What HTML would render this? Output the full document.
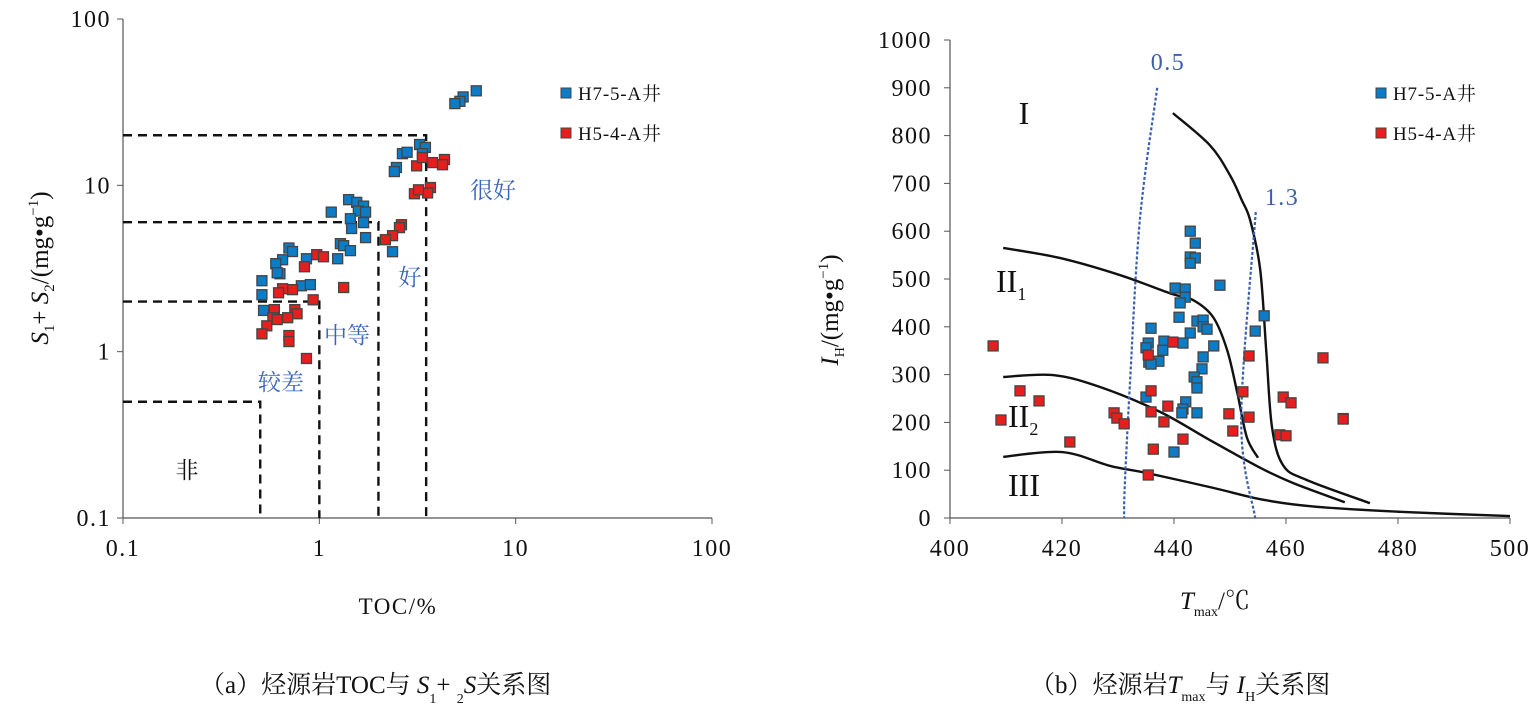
<!DOCTYPE html>
<html><head><meta charset="utf-8">
<style>
html,body{margin:0;padding:0;background:#fff;}
svg{display:block;font-family:"Liberation Serif","Noto Serif CJK SC",serif;}
</style></head>
<body>
<svg id="fig" width="1536" height="709" viewBox="0 0 1536 709">
<g id="left"></g>
<g id="right"></g>
</svg>
<script>
// ---- Left chart data ----
const leftXTicks = [0.1, 1, 10, 100];
const leftXTickLabels = ["0.1", "1", "10", "100"];
const leftYTicks = [0.1, 1, 10, 100];
const leftYTickLabels = ["0.1", "1", "10", "100"];
const blueTOC = [6.3,5.4,5.2,4.9,3.24,3.47,3.35,2.65,2.47,2.41,2.8,1.41,1.55,1.68,1.58,1.72,1.15,1.44,1.68,1.46,1.72,1.28,1.33,1.44,1.24,2.36,0.70,0.73,0.65,0.60,0.63,0.61,0.86,0.81,0.90,0.51,0.51,0.52];
const blueS12 = [37,34,32,31,17.6,16.9,15.5,15.5,12.8,12.1,15.8,8.2,7.9,7.5,7.0,6.9,6.9,6.3,5.97,5.5,4.85,4.46,4.34,4.05,3.62,3.99,4.2,4.0,3.57,3.38,2.94,2.98,3.62,2.49,2.53,2.67,2.2,1.77];
const redTOC = [4.34,4.24,3.77,3.13,3.35,3.68,3.05,3.56,3.2,2.62,2.56,2.36,2.17,0.97,1.05,0.84,1.33,0.93,0.73,0.65,0.62,0.59,0.75,0.77,0.58,0.61,0.69,0.54,0.51,0.70,0.70,0.86];
const redS12 = [14.3,13.3,13.7,13.1,14.7,9.7,8.9,9.0,9.4,5.8,5.57,4.98,4.71,3.83,3.72,3.24,2.43,2.05,2.36,2.39,2.26,1.79,1.79,1.69,1.6,1.56,1.6,1.43,1.28,1.25,1.15,0.91];
const gradeTOC = [0.5, 1, 2, 3.5];
const gradeS12 = [0.5, 2, 6, 20];

// ---- Right chart data ----
const rightXTicks = [400,420,440,460,480,500];
const rightYTicks = [0,100,200,300,400,500,600,700,800,900,1000];
const blueTmax = [442.9,443.8,442.9,443.8,442.9,440.2,442,442,441.1,448.2,440.9,444.1,445.2,445.2,445.9,456.1,454.5,435.9,442.9,438.2,441.6,435.4,435,438,447.1,445.2,445,443.6,444.1,444.1,435.5,437.3,435.9,435,442.1,441.6,441.4,444.1,440,470.2];
const blueIH = [600,575,546,544,533,481,479,462,450,487,420,412,414,400,395,423,391,397,387,370,366,366,356,351,360,337,312,295,285,272,326,328,322,253,243,228,220,220,138,208];
const redTmax = [407.7,412.5,415.9,409.1,421.4,429.3,429.8,431.1,435.9,435.9,438.9,438.2,436.3,441.6,435.4,439.8,435.4,453.4,452.3,449.8,453.4,450.5,459.5,460.9,458.9,460,466.6,470.2];
const redIH = [360,266,245,205,159,220,209,197,266,222,234,201,144,165,90,368,341,339,264,218,211,182,253,241,174,172,335,207];
const curveI_T = [439.8,446.4,450,452.1,453.6,455.4,456.5,457.5,459.5,463.8,475];
const curveI_IH = [847,780,717,665,623,519,345,190,110,79,31];
const curveII1_T = [409.5,419.6,430.4,439.3,443.4,447,449.5,451.3,453,455];
const curveII1_IH = [565,544,508,470,456,420,351,262,169,126];
const curveII2_T = [409.5,418.4,426.8,437.5,446.4,455.4,461.3,470.5];
const curveII2_IH = [295,299,274,222,163,105,73,33];
const curveIII_T = [409.5,420,428.6,435.2,447,456,465,480.4,500];
const curveIII_IH = [128,138,109,94,63,38,24,13,4];
const ro05_T = [437,433.9,432.1,431.2,431.1];
const ro05_IH = [900,623,274,65,0];
const ro13_T = [454.6,452,454.5];
const ro13_IH = [640,205,0];

const NS="http://www.w3.org/2000/svg";
function mk(parent, tag, attrs, text){
  const e=document.createElementNS(NS,tag);
  for(const k in attrs) e.setAttribute(k,attrs[k]);
  if(text!==undefined) e.textContent=text;
  parent.appendChild(e); return e;
}
const BLUE="#0d7cc6", RED="#e61e1e";

// ===== LEFT =====
const L=document.getElementById('left');
const lx0=123,lx1=712,ly0=19,ly1=518;
function lx(v){return lx0+(Math.log10(v)+1)/3*(lx1-lx0);}
function ly(v){return ly1-(Math.log10(v)+1)/3*(ly1-ly0);}
let a=mk(L,'line',{x1:lx0,y1:ly0,x2:lx0,y2:ly1,stroke:'#555','stroke-width':1.2});


a=mk(L,'line',{x1:lx0,y1:ly1,x2:lx1,y2:ly1,stroke:'#555','stroke-width':1.2});


leftYTicks.forEach((v,i)=>{
  mk(L,'line',{x1:lx0-6,y1:ly(v),x2:lx0,y2:ly(v),stroke:'#555'});
  const t=mk(L,'text',{x:lx0-12,y:ly(v)+8,'text-anchor':'end','font-size':24,'letter-spacing':1.5,fill:'#111'},leftYTickLabels[i]);
  
  
});
leftXTicks.forEach((v,i)=>{
  mk(L,'line',{x1:lx(v),y1:ly1,x2:lx(v),y2:ly1+6,stroke:'#555'});
  const t=mk(L,'text',{x:lx(v),y:ly1+38,'text-anchor':'middle','font-size':24,'letter-spacing':1.5,fill:'#111'},leftXTickLabels[i]);
  
  
});
gradeTOC.forEach((v,i)=>{
  const p=mk(L,'path',{d:`M${lx0},${ly(gradeS12[i])}H${lx(v)}V${ly1}`,fill:'none',stroke:'#111','stroke-width':2.4,'stroke-dasharray':'9,6'});
  
  
});
function sq(parent,x,y,fill,name){
  const r=mk(parent,'rect',{x:x-5,y:y-5,width:10,height:10,fill:fill,stroke:'#444','stroke-width':1.3});
  
  
}
blueTOC.forEach((v,i)=>sq(L,lx(v),ly(blueS12[i]),BLUE,'point-h7-5-a'));
redTOC.forEach((v,i)=>sq(L,lx(v),ly(redS12[i]),RED,'point-h5-4-a'));
[["很好",493,198,'#3a66b8','label-very-good'],["好",410,285,'#3a66b8','label-good'],["中等",347,343,'#3a66b8','label-medium'],["较差",281,390,'#3a66b8','label-poor'],["非",187,478,'#111','label-non']].forEach(d=>{
  const t=mk(L,'text',{x:d[1],y:d[2],'text-anchor':'middle','font-size':23,fill:d[3]},d[0]);
  
  
});
function legend(parent,x,y,fill,label,name){
  const g=mk(parent,'g',{});
  
  
  mk(g,'rect',{x:x-5,y:y-5,width:10,height:10,fill:fill,stroke:'#444','stroke-width':1});
  mk(g,'text',{x:x+12,y:y+7,'font-size':19,'letter-spacing':0.8,fill:'#111'},label);
}
legend(L,566,93,BLUE,'H7-5-A井','legend-h7-5-a');
legend(L,566,133,RED,'H5-4-A井','legend-h5-4-a');
a=mk(L,'text',{x:398,y:614,'text-anchor':'middle','font-size':23,'letter-spacing':1.5,fill:'#111'},'TOC/%');


a=mk(L,'text',{transform:'translate(48,268) rotate(-90)','text-anchor':'middle','font-size':25,fill:'#111'});


a.innerHTML='<tspan font-style="italic">S</tspan><tspan font-size="15" dy="6">1</tspan><tspan dy="-6">+ </tspan><tspan font-style="italic">S</tspan><tspan font-size="15" dy="6">2</tspan><tspan dy="-6">/(mg•g</tspan><tspan font-size="15" dy="-10">−1</tspan><tspan dy="10">)</tspan>';
a=mk(L,'text',{x:200,y:693,'font-size':25,fill:'#111'});


a.innerHTML='（a）烃源岩TOC与 <tspan font-style="italic">S</tspan><tspan font-size="14" dy="10">1</tspan><tspan dy="-10">+ </tspan><tspan font-size="14" dy="10">2</tspan><tspan dy="-10" font-style="italic">S</tspan>关系图';

// ===== RIGHT =====
const R=document.getElementById('right');
const rx0=950,rx1=1510,ry0=40,ry1=518;
function rx(v){return rx0+(v-400)/100*(rx1-rx0);}
function ry(v){return ry1-v/1000*(ry1-ry0);}
a=mk(R,'line',{x1:rx0,y1:ry0,x2:rx0,y2:ry1,stroke:'#555','stroke-width':1.2});


a=mk(R,'line',{x1:rx0,y1:ry1,x2:rx1,y2:ry1,stroke:'#555','stroke-width':1.2});


rightYTicks.forEach(v=>{
  mk(R,'line',{x1:rx0-6,y1:ry(v),x2:rx0,y2:ry(v),stroke:'#555'});
  const t=mk(R,'text',{x:rx0-18,y:ry(v)+8,'text-anchor':'end','font-size':24,'letter-spacing':1.5,fill:'#111'},String(v));
  
  
});
rightXTicks.forEach(v=>{
  mk(R,'line',{x1:rx(v),y1:ry1,x2:rx(v),y2:ry1+6,stroke:'#555'});
  const t=mk(R,'text',{x:rx(v),y:ry1+38,'text-anchor':'middle','font-size':24,'letter-spacing':1.5,fill:'#111'},String(v));
  
  
});
function smooth(T,I){
  const p=T.map((t,i)=>[rx(t),ry(I[i])]);
  let d=`M${p[0][0]},${p[0][1]}`;
  for(let i=0;i<p.length-1;i++){
    const p0=p[Math.max(i-1,0)],p1=p[i],p2=p[i+1],p3=p[Math.min(i+2,p.length-1)];
    const c1=[p1[0]+(p2[0]-p0[0])/6,p1[1]+(p2[1]-p0[1])/6];
    const c2=[p2[0]-(p3[0]-p1[0])/6,p2[1]-(p3[1]-p1[1])/6];
    d+=`C${c1[0]},${c1[1]} ${c2[0]},${c2[1]} ${p2[0]},${p2[1]}`;
  }
  return d;
}
[[curveI_T,curveI_IH,'curve-type-i'],[curveII1_T,curveII1_IH,'curve-type-ii1'],[curveII2_T,curveII2_IH,'curve-type-ii2'],[curveIII_T,curveIII_IH,'curve-type-iii']].forEach(c=>{
  const p=mk(R,'path',{d:smooth(c[0],c[1]),fill:'none',stroke:'#111','stroke-width':2.4});
  
  
});
[[ro05_T,ro05_IH,'ro-0-5-line'],[ro13_T,ro13_IH,'ro-1-3-line']].forEach(c=>{
  const p=mk(R,'path',{d:smooth(c[0],c[1]),fill:'none',stroke:'#3a5fb0','stroke-width':2.2,'stroke-dasharray':'3,2'});
  
  
});
blueTmax.forEach((v,i)=>sq(R,rx(v),ry(blueIH[i]),BLUE,'point-h7-5-a'));
redTmax.forEach((v,i)=>sq(R,rx(v),ry(redIH[i]),RED,'point-h5-4-a'));
legend(R,1381,93,BLUE,'H7-5-A井','legend-h7-5-a');
legend(R,1381,133,RED,'H5-4-A井','legend-h5-4-a');
[["0.5",1168,70,'ro-0-5-label'],["1.3",1282,205,'ro-1-3-label']].forEach(d=>{
  const t=mk(R,'text',{x:d[1],y:d[2],'text-anchor':'middle','font-size':24,'letter-spacing':1.5,fill:'#3a5fb0'},d[0]);
  
  
});
a=mk(R,'text',{x:1024,y:124,'text-anchor':'middle','font-size':32,fill:'#111'},'I');


a=mk(R,'text',{x:996,y:292,'font-size':32,fill:'#111'});


a.innerHTML='II<tspan font-size="18" dy="8">1</tspan>';
a=mk(R,'text',{x:1008,y:427,'font-size':32,fill:'#111'});


a.innerHTML='II<tspan font-size="18" dy="8">2</tspan>';
a=mk(R,'text',{x:1008,y:496,'font-size':32,fill:'#111'},'III');


a=mk(R,'text',{x:1215,y:609,'text-anchor':'middle','font-size':25,fill:'#111'});


a.innerHTML='<tspan font-style="italic">T</tspan><tspan font-size="14" dy="7">max</tspan><tspan dy="-7">/℃</tspan>';
a=mk(R,'text',{transform:'translate(838,310) rotate(-90)','text-anchor':'middle','font-size':25,fill:'#111'});


a.innerHTML='<tspan font-style="italic">I</tspan><tspan font-size="14" dy="6">H</tspan><tspan dy="-6">/(mg•g</tspan><tspan font-size="15" dy="-10">−1</tspan><tspan dy="10">)</tspan>';
a=mk(R,'text',{x:1030,y:693,'font-size':25,fill:'#111'});


a.innerHTML='（b）烃源岩<tspan font-style="italic">T</tspan><tspan font-size="14" dy="8">max</tspan><tspan dy="-8">与 </tspan><tspan font-style="italic">I</tspan><tspan font-size="14" dy="8">H</tspan><tspan dy="-8">关系图</tspan>';
</script>
</body></html>
